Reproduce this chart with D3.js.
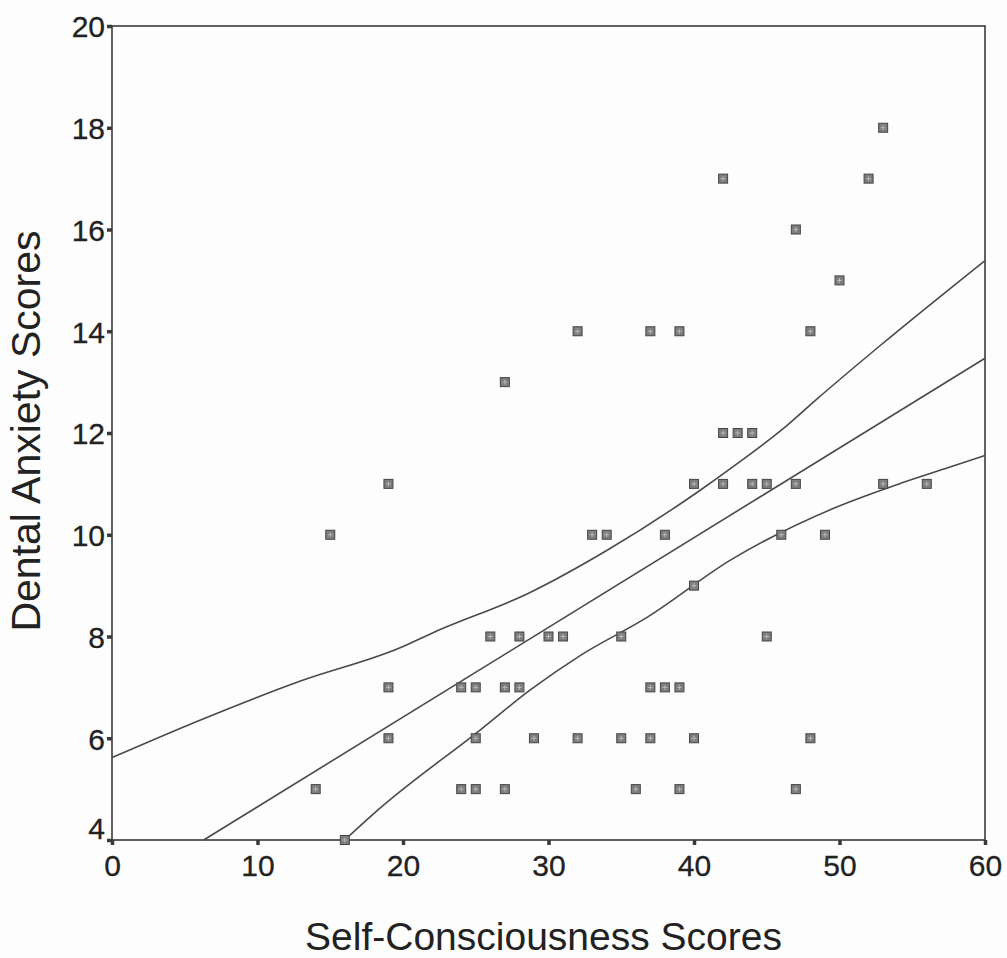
<!DOCTYPE html>
<html>
<head>
<meta charset="utf-8">
<script src="https://cdn.jsdelivr.net/npm/d3@7"></script>
<style>
  body { margin: 0; background: #fdfdfd; }
  svg { display: block; font-family: "Liberation Sans", Arial, sans-serif; }
</style>
</head>
<body>
<div id="scatter"></div>
<script>
var svgWidth = 1007;
var svgHeight = 958;

// scores
var selfScores = [14, 15, 16, 19, 19, 19, 24, 24, 25, 25, 25, 26, 27, 27, 27, 28, 28, 29, 30, 31,
  32, 32, 33, 34, 35, 35, 36, 37, 37, 37, 38, 38, 39, 39, 39, 40, 40, 40, 42, 42, 42, 43, 44, 44,
  45, 45, 46, 47, 47, 47, 48, 48, 49, 50, 52, 53, 53, 56];
var anxietyScores = [5, 10, 4, 11, 7, 6, 7, 5, 7, 6, 5, 8, 13, 7, 5, 8, 7, 6, 8, 8,
  14, 6, 10, 10, 8, 6, 5, 14, 7, 6, 10, 7, 14, 7, 5, 11, 9, 6, 17, 12, 11, 12, 12, 11,
  11, 8, 10, 16, 11, 5, 14, 6, 10, 15, 17, 18, 11, 11];

// fit line and 95% band
var fitX = [6.3, 60];
var fitY = [4, 13.47];
var upperX = [0, 6, 13, 19.8, 22.1, 28.7, 34, 40.4, 42.5, 46.4, 48.5, 52.8, 60];
var upperY = [5.62, 6.35, 7.13, 7.78, 8.08, 8.86, 9.69, 10.87, 11.3, 12.15, 12.68, 13.72, 15.39];
var lowerX = [16, 18.4, 25.3, 28.7, 32.2, 36.8, 42.5, 49.6, 54.2, 57.6, 60];
var lowerY = [4, 4.62, 6.16, 6.94, 7.63, 8.38, 9.5, 10.52, 11.01, 11.33, 11.56];

var xTicks = [0, 10, 20, 30, 40, 50, 60];
var yTicks = [4, 6, 8, 10, 12, 14, 16, 18, 20];

var plotLeft = 112, plotRight = 985, plotTop = 26, plotBottom = 840;

var svg = d3.select("#scatter")
  .append("svg")
  .attr("width", svgWidth)
  .attr("height", svgHeight);

var xScale = d3.scaleLinear().domain([0, 60]).range([plotLeft, plotRight]);
var yScale = d3.scaleLinear().domain([4, 20]).range([plotBottom, plotTop]);

var ink = "#3a3a3a";
var textInk = "#222";

// frame
svg.append("rect")
  .attr("x", plotLeft)
  .attr("y", plotTop)
  .attr("width", plotRight - plotLeft)
  .attr("height", plotBottom - plotTop)
  .attr("fill", "none")
  .attr("stroke", ink)
  .attr("stroke-width", 1.6);

// axes
var bottomAxis = d3.axisBottom(xScale)
  .tickValues(xTicks)
  .tickSize(5)
  .tickPadding(10)
  .tickFormat(d3.format("d"));

var leftAxis = d3.axisLeft(yScale)
  .tickValues(yTicks)
  .tickSize(5)
  .tickPadding(2)
  .tickFormat(d3.format("d"));

var xAxis = svg.append("g")
  .attr("transform", `translate(0, ${plotBottom})`)
  .call(bottomAxis);

var yAxis = svg.append("g")
  .attr("transform", `translate(${plotLeft}, 0)`)
  .call(leftAxis);

[xAxis, yAxis].forEach(function(ax) {
  ax.attr("font-family", null).attr("font-size", null);
  ax.select(".domain").remove();
  ax.selectAll(".tick line")
    .attr("stroke", ink)
    .attr("stroke-width", 3.5);
  ax.selectAll(".tick text")
    .attr("fill", textInk)
    .attr("stroke", textInk)
    .attr("stroke-width", 0.3)
    .style("font-size", "30px");
});

xAxis.selectAll(".tick text").attr("dy", "0.71em");
yAxis.selectAll(".tick text")
  .attr("dy", d => d === 4 ? "-0.05em" : "0.36em");

// lines
var line = d3.line()
  .curve(d3.curveMonotoneX)
  .x(d => xScale(d[0]))
  .y(d => yScale(d[1]));

var curves = [
  d3.zip(fitX, fitY),
  d3.zip(upperX, upperY),
  d3.zip(lowerX, lowerY)
];

svg.append("g")
  .selectAll("path")
  .data(curves)
  .enter()
  .append("path")
  .attr("d", line)
  .attr("fill", "none")
  .attr("stroke", "#4a4a4a")
  .attr("stroke-width", 1.6);

// points
var points = d3.zip(selfScores, anxietyScores);

var marks = svg.append("g")
  .selectAll("g")
  .data(points)
  .enter()
  .append("g")
  .attr("transform", d => `translate(${xScale(d[0])}, ${yScale(d[1])})`);

marks.append("rect")
  .attr("x", -4.5)
  .attr("y", -4.5)
  .attr("width", 9)
  .attr("height", 9)
  .attr("fill", "#7e7e7e")
  .attr("stroke", "#454545")
  .attr("stroke-width", 1);

marks.append("path")
  .attr("d", "M-2.5,0H2.5M0,-2.5V2.5")
  .attr("stroke", "#c4c4c4")
  .attr("stroke-width", 0.8);

// titles
svg.append("text")
  .attr("x", (plotLeft + plotRight) / 2 - 5)
  .attr("y", 950)
  .attr("text-anchor", "middle")
  .attr("font-size", "39px")
  .attr("fill", textInk)
  .text("Self-Consciousness Scores");

svg.append("text")
  .attr("transform", "translate(40, 431) rotate(-90)")
  .attr("text-anchor", "middle")
  .attr("font-size", "41px")
  .attr("fill", textInk)
  .text("Dental Anxiety Scores");
</script>
</body>
</html>
